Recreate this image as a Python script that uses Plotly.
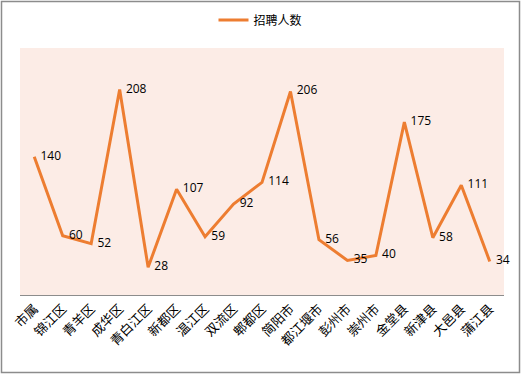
import plotly.graph_objects as go

categories = ["市属", "锦江区", "青羊区", "成华区", "青白江区", "新都区", "温江区", "双流区", "郫都区",
              "简阳市", "都江堰市", "彭州市", "崇州市", "金堂县", "新津县", "大邑县", "蒲江县"]
values = [140, 60, 52, 208, 28, 107, 59, 92, 114, 206, 56, 35, 40, 175, 58, 111, 34]
series_name = "招聘人数"

W, H = 521, 374
ml, mr, mt, mb = 20, 17, 48, 79
pw, ph = W - ml - mr, H - mt - mb

fig = go.Figure()
fig.add_trace(go.Scatter(
    x=categories, y=values, mode="lines+text", name=series_name,
    line=dict(color="#ED7D31", width=3),
    text=[str(v) for v in values], texttemplate="  %{text}", textposition="middle right",
    textfont=dict(family="Open Sans, Liberation Sans, sans-serif", size=12, color="#000000"),
    cliponaxis=False,
))

fig.update_layout(
    width=W, height=H,
    margin=dict(l=ml, r=mr, t=mt, b=mb, autoexpand=False),
    paper_bgcolor="#FFFFFF",
    plot_bgcolor="#FCECE6",
    showlegend=True,
    legend=dict(orientation="h", x=0.5, xanchor="center", xref="container",
                y=1 - 20 / H, yanchor="middle", yref="container",
                font=dict(family="Noto Sans CJK SC", size=12, color="#000000"),
                bgcolor="rgba(0,0,0,0)"),
    xaxis=dict(tickangle=-45, showgrid=False, showline=True, linecolor="#8C8C8C", linewidth=1,
               ticks="", automargin=False,
               tickfont=dict(family="Noto Sans CJK SC", size=13, color="#000000"),
               range=[-0.5, len(categories) - 0.5]),
    yaxis=dict(range=[0, 250], visible=False, showgrid=False, automargin=False),
    shapes=[dict(type="rect", xref="paper", yref="paper",
                 x0=(1.5 - ml) / pw, x1=(W - 1.5 - ml) / pw,
                 y0=-(H - 1.5 - mt - ph) / ph, y1=1 + (mt - 1.5) / ph,
                 line=dict(color="#8C8C8C", width=1.5), fillcolor="rgba(0,0,0,0)", layer="below")],
)

fig.write_html("out.html", config={"displayModeBar": False},
               post_script="document.body.style.margin='0';document.body.style.overflow='hidden';")
